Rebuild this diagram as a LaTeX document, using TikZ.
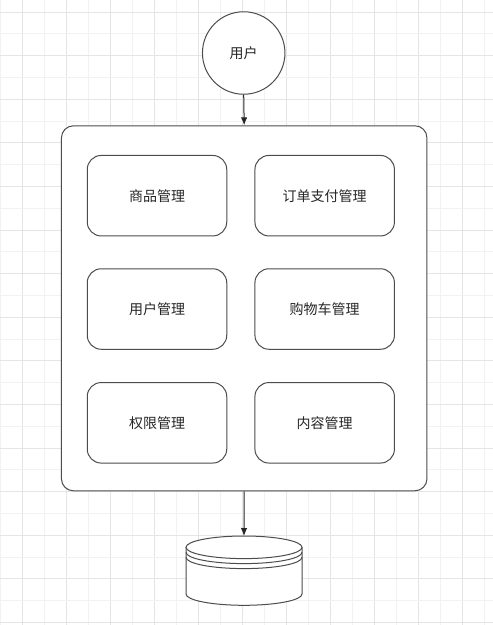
\documentclass[tikz,border=0pt]{standalone}
\usepackage{fontspec}
\newfontfamily\cjk{Noto Sans CJK SC}
\usetikzlibrary{arrows.meta}
\begin{document}
\begin{tikzpicture}[x=1pt,y=-1pt,
  every node/.style={font=\cjk\fontsize{14}{16}\selectfont, text=black!85},
  border/.style={draw=black!70, line width=1pt},
  modbox/.style={border, fill=white, rounded corners=14pt, minimum width=139.5pt, minimum height=80.5pt, inner sep=0pt},
  conn/.style={draw=black!85, line width=1pt, -{Latex[length=8pt,width=6.5pt]}},
  gridminor/.style={draw=black!5, line width=0.8pt},
  gridmajor/.style={draw=black!10, line width=0.8pt}]
\useasboundingbox (0,0) rectangle (493,625);
\fill[white] (0,0) rectangle (493,625);
% grid
\foreach \i in {0,...,22} {
  \pgfmathsetmacro{\xx}{22*\i}
  \ifodd\i \draw[gridmajor] (\xx,0) -- (\xx,625); \else \draw[gridminor] (\xx,0) -- (\xx,625); \fi
}
\foreach \i in {0,...,28} {
  \pgfmathsetmacro{\yy}{12+21.8*\i}
  \ifodd\i \draw[gridminor] (0,\yy) -- (493,\yy); \else \draw[gridmajor] (0,\yy) -- (493,\yy); \fi
}
% user circle
\node[border, fill=white, circle, minimum size=82.5pt, inner sep=0pt] (user) at (243.7,53) {用户};
% system container
\node[border, fill=white, rounded corners=12pt, minimum width=365.5pt, minimum height=365pt, inner sep=0pt] (sys) at (244.2,308.3) {};
% modules
\node[modbox] (m1) at (157,195.7) {商品管理};
\node[modbox] (m2) at (324.7,195.7) {订单支付管理};
\node[modbox] (m3) at (157,309) {用户管理};
\node[modbox] (m4) at (324.7,309) {购物车管理};
\node[modbox] (m5) at (157,422.8) {权限管理};
\node[modbox] (m6) at (324.7,422.8) {内容管理};
% database
\coordinate (dbtop) at (244,536);
\coordinate (dbc) at (244,547.3);
\filldraw[border, fill=white] (186,547.3) -- (186,594) arc[start angle=180, end angle=0, x radius=58, y radius=11.3] -- (302,547.3);
\filldraw[border, fill=white] (dbc) ellipse[x radius=58, y radius=11.3];
\draw[border] (186,552.3) arc[start angle=180, end angle=0, x radius=58, y radius=11.3];
\draw[border] (186,557.3) arc[start angle=180, end angle=0, x radius=58, y radius=11.3];
% connectors
\draw[conn] (user.south) -- (sys.north);
\draw[conn] (sys.south) -- (dbtop);
\end{tikzpicture}
\end{document}
